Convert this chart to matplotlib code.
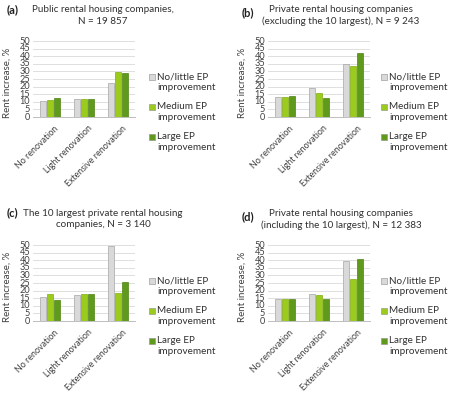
import numpy as np
import matplotlib
matplotlib.use('Agg')
import matplotlib.pyplot as plt
from matplotlib.patches import Rectangle

plt.rcParams['font.family'] = ['Lato', 'DejaVu Sans']

W, H = 450, 393

categories = ['No renovation', 'Light renovation', 'Extensive renovation']
series_names = ['No/little EP\nimprovement', 'Medium EP\nimprovement', 'Large EP\nimprovement']
colors = ['#d9d9d9', '#9bcb1c', '#5f9a1c']
edges = ['#a6a6a6', '#7fae10', '#4e8416']

panel_letters = ['(a)', '(b)', '(c)', '(d)']
panel_titles = [
    ['Public rental housing companies,', 'N = 19 857'],
    ['Private rental housing companies', '(excluding the 10 largest), N = 9 243'],
    ['The 10 largest private rental housing', 'companies, N = 3 140'],
    ['Private rental housing companies', '(including the 10 largest), N = 12 383'],
]

# values per panel: rows = series (no/little, medium, large), cols = categories
public_vals = [[10.7, 12.1, 22.1],
               [11.2, 11.6, 29.6],
               [12.3, 11.6, 28.7]]
private_excl_vals = [[13.2, 18.9, 34.6],
                     [13.2, 15.8, 33.3],
                     [13.8, 12.7, 42.1]]
largest10_vals = [[15.9, 17.0, 49.1],
                  [17.6, 17.6, 18.7],
                  [14.1, 17.8, 25.8]]
private_incl_vals = [[14.3, 17.6, 39.4],
                     [14.3, 17.0, 27.5],
                     [14.3, 14.3, 40.8]]
all_vals = [public_vals, private_excl_vals, largest10_vals, private_incl_vals]

# panel layout in pixels: (panel left, panel top)
origins = [(0, 0), (235, 0), (0, 204), (235, 204)]
txt = '#303030'


def px(x, y):
    return x / W, 1 - y / H


fig = plt.figure(figsize=(W / 100, H / 100), dpi=100)

for idx, vals in enumerate(all_vals):
    ox, oy = origins[idx]
    ax_left, ax_top, ax_w, ax_h = ox + 33, oy + 41, 102, 76
    ax = fig.add_axes([ax_left / W, 1 - (ax_top + ax_h) / H, ax_w / W, ax_h / H])
    x = np.arange(len(categories))
    width = 0.19
    for s in range(3):
        ax.bar(x + (s - 1) * 0.21, vals[s], width, color=colors[s],
               edgecolor=edges[s], linewidth=0.5, zorder=3)
    ax.set_xlim(-0.5, 2.5)
    ax.set_ylim(0, 50)
    ax.set_yticks(np.arange(0, 51, 5))
    ax.tick_params(axis='y', length=0, labelsize=6.6, pad=2, colors='#404040')
    ax.tick_params(axis='x', length=0, labelsize=6.4, pad=5, colors='#404040')
    ax.set_xticks(x + 0.12)
    ax.set_xticklabels(categories, rotation=45, ha='right', rotation_mode='anchor')
    for lab in ax.get_yticklabels():
        lab.set_verticalalignment('center')
    ax.grid(axis='y', color='#d9d9d9', linewidth=0.6, zorder=0)
    for sp in ['top', 'right', 'left']:
        ax.spines[sp].set_visible(False)
    ax.spines['bottom'].set_color('#bfbfbf')
    ax.spines['bottom'].set_linewidth(0.7)
    ax.set_ylabel('Rent increase, %', fontsize=7, color='#404040', labelpad=1)
    ax.yaxis.set_label_coords(-0.21, 0.45)

    # titles
    if idx in (0, 2):
        fig.text(*px(ox + 7, oy + (10 if idx == 0 else 9)), panel_letters[idx],
                 fontsize=8, fontweight='bold', ha='left', va='center', color='#202020')
        cx = ox + 103
        leg_x = ox + 149
    else:
        fig.text(*px(ox + 7, oy + 13), panel_letters[idx], fontsize=8,
                 fontweight='bold', ha='left', va='center', color='#202020')
        cx = ox + 106
        leg_x = ox + 146

    fig.text(*px(cx, oy + 9), panel_titles[idx][0], fontsize=7.1, ha='center',
             va='center', color=txt)
    fig.text(*px(cx, oy + 21), panel_titles[idx][1], fontsize=7.1, ha='center',
             va='center', color=txt)

    # legend
    for s in range(3):
        ly = oy + 77 + s * 30
        fig.patches.append(Rectangle(px(leg_x, ly + 3), 6 / W, 6 / H,
                                     transform=fig.transFigure, facecolor=colors[s],
                                     edgecolor='#8c8c8c', linewidth=0.4))
        fig.text(*px(leg_x + 8, ly - 5), series_names[s], fontsize=7.1, ha='left',
                 va='top', color=txt, linespacing=1.3)

fig.savefig('out.png', dpi=100)
